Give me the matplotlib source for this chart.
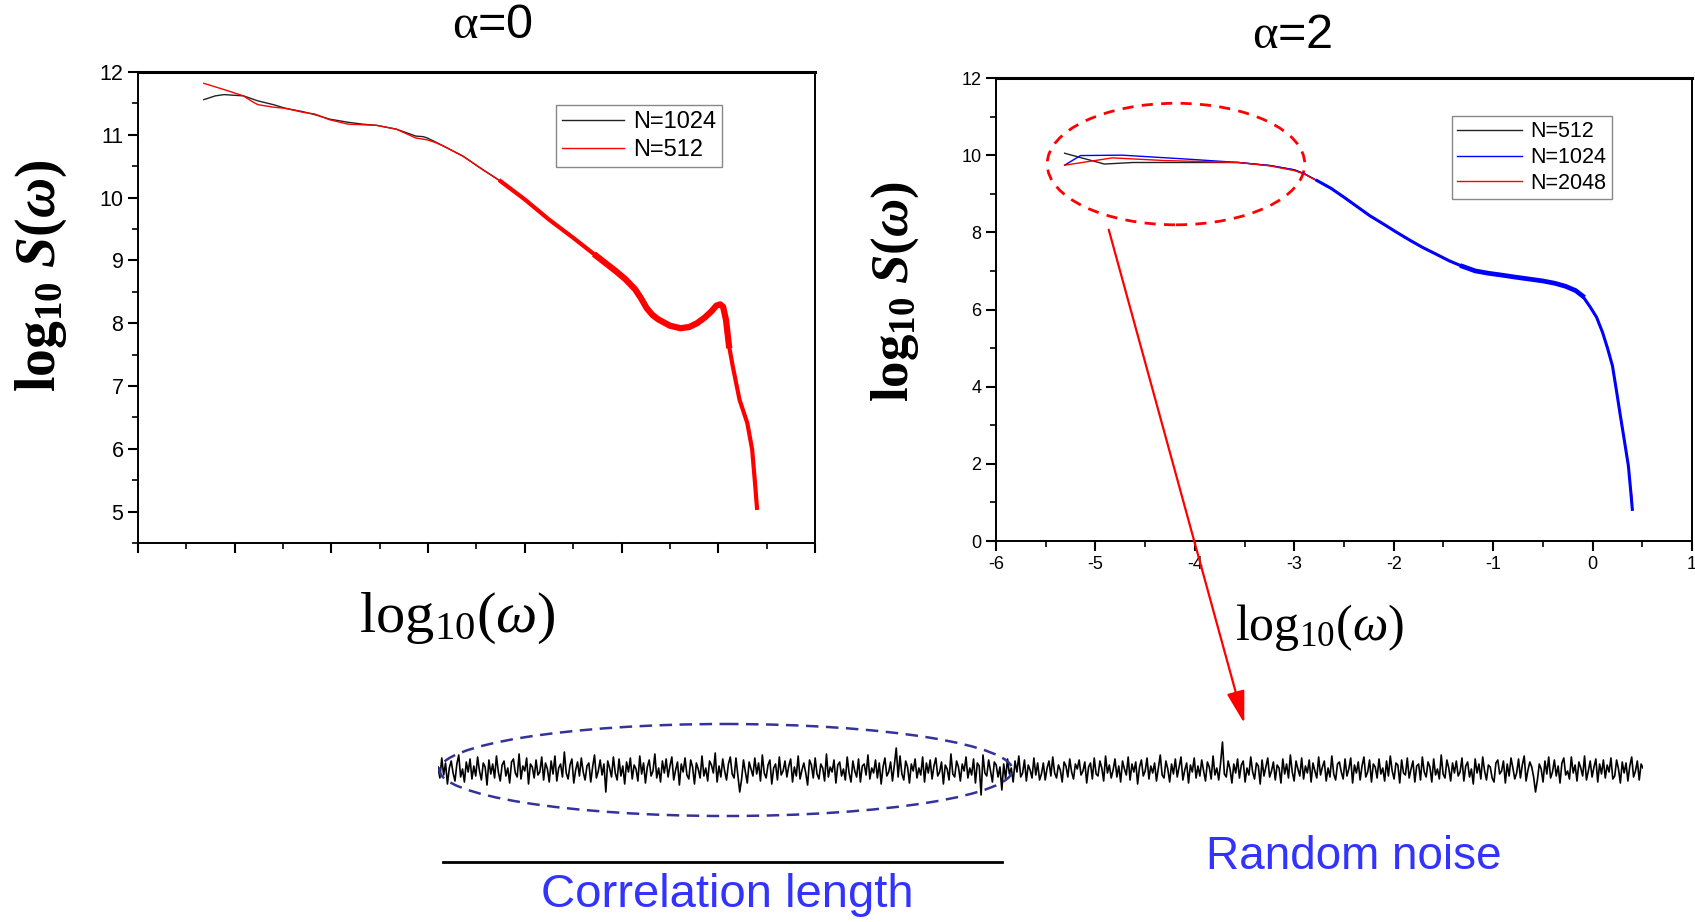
import matplotlib
matplotlib.use("Agg")
import matplotlib.pyplot as plt
from matplotlib.patches import Ellipse

plt.rcParams["font.family"] = ["Liberation Sans", "DejaVu Sans"]
plt.rcParams["axes.unicode_minus"] = False
plt.rcParams["mathtext.fontset"] = "custom"
plt.rcParams["mathtext.rm"] = "Liberation Serif"
plt.rcParams["mathtext.it"] = "Liberation Serif:italic"
plt.rcParams["mathtext.bf"] = "Liberation Serif:bold"
plt.rcParams["mathtext.bfit"] = "Liberation Serif:italic:bold"

# ---- alpha = 0 panel ----
a0_x_1024 = [-5.32, -5.20, -5.11, -4.91, -4.76, -4.60, -4.47, -4.30, -4.17, -4.02, -3.83, -3.68,
             -3.53, -3.33, -3.20, -3.13, -3.05, -3.01, -2.93,
             -2.84, -2.64, -2.44, -2.25, -2.00, -1.75, -1.50, -1.26, -1.06, -0.96, -0.86, -0.80,
             -0.74, -0.68, -0.62, -0.50, -0.39, -0.30, -0.22, -0.14, -0.07, -0.02, 0.02, 0.05,
             0.08, 0.11, 0.15, 0.22, 0.30, 0.35, 0.38, 0.40]
a0_y_1024 = [11.56, 11.62, 11.64, 11.62, 11.54, 11.48, 11.42, 11.37, 11.32, 11.25, 11.20, 11.17,
             11.15, 11.09, 11.02, 10.98, 10.97, 10.95, 10.89,
             10.82, 10.66, 10.45, 10.26, 9.97, 9.65, 9.36, 9.07, 8.83, 8.70, 8.54, 8.40,
             8.24, 8.13, 8.06, 7.96, 7.92, 7.94, 8.00, 8.09, 8.19, 8.28, 8.30, 8.26,
             8.05, 7.65, 7.31, 6.78, 6.41, 5.99, 5.45, 5.10]
a0_x_512 = [-5.32, -5.11, -4.91, -4.82, -4.76, -4.60, -4.47, -4.30, -4.17, -4.02, -3.83, -3.68,
            -3.53, -3.33, -3.20, -3.13, -3.05, -3.01, -2.93,
            -2.84, -2.64, -2.44, -2.25, -2.00, -1.75, -1.50, -1.26, -1.06, -0.96, -0.86, -0.80,
            -0.74, -0.68, -0.62, -0.50, -0.39, -0.30, -0.22, -0.14, -0.07, -0.02, 0.02, 0.05,
            0.08, 0.11, 0.15, 0.22, 0.30, 0.35, 0.38, 0.40]
a0_y_512 = [11.82, 11.72, 11.62, 11.53, 11.48, 11.44, 11.42, 11.36, 11.33, 11.24, 11.17, 11.16,
            11.15, 11.09, 11.00, 10.95, 10.93, 10.92, 10.88,
            10.82, 10.66, 10.45, 10.26, 9.97, 9.65, 9.36, 9.07, 8.83, 8.70, 8.54, 8.40,
            8.24, 8.13, 8.06, 7.96, 7.92, 7.94, 8.00, 8.09, 8.19, 8.28, 8.30, 8.26,
            8.05, 7.65, 7.31, 6.78, 6.41, 5.99, 5.45, 5.06]

# ---- alpha = 2 panel ----
a2_x_512 = [-5.31, -4.91, -4.62, -3.83, -3.56,
            -3.24, -3.00, -2.90, -2.77, -2.63, -2.50, -2.37, -2.24, -2.10, -1.97, -1.84, -1.71,
            -1.57, -1.44, -1.31, -1.18, -1.05, -0.91, -0.78, -0.64, -0.50, -0.38, -0.27, -0.17,
            -0.10, -0.02, 0.04, 0.10, 0.15, 0.20, 0.24, 0.28, 0.32, 0.36, 0.38, 0.40]
a2_y_512 = [10.05, 9.77, 9.81, 9.81, 9.81,
            9.73, 9.62, 9.52, 9.34, 9.14, 8.91, 8.67, 8.43, 8.21, 8.00, 7.80, 7.61,
            7.43, 7.26, 7.12, 7.00, 6.94, 6.89, 6.84, 6.79, 6.74, 6.68, 6.60, 6.49,
            6.35, 6.05, 5.80, 5.41, 5.00, 4.54, 3.90, 3.24, 2.60, 1.95, 1.40, 0.82]
a2_x_1024 = [-5.31, -5.15, -4.73, -4.09, -3.56,
             -3.24, -3.00, -2.90, -2.77, -2.63, -2.50, -2.37, -2.24, -2.10, -1.97, -1.84, -1.71,
             -1.57, -1.44, -1.31, -1.18, -1.05, -0.91, -0.78, -0.64, -0.50, -0.38, -0.27, -0.17,
             -0.10, -0.02, 0.04, 0.10, 0.15, 0.20, 0.24, 0.28, 0.32, 0.36, 0.38, 0.40]
a2_y_1024 = [9.74, 9.99, 10.00, 9.90, 9.81,
             9.73, 9.62, 9.52, 9.34, 9.14, 8.91, 8.67, 8.43, 8.21, 8.00, 7.80, 7.61,
             7.43, 7.26, 7.12, 7.00, 6.94, 6.89, 6.84, 6.79, 6.74, 6.68, 6.60, 6.49,
             6.35, 6.05, 5.80, 5.41, 5.00, 4.54, 3.90, 3.24, 2.60, 1.95, 1.40, 0.82]
a2_x_2048 = [-5.31, -4.83, -4.30, -3.56,
             -3.24, -3.00, -2.90, -2.77, -2.63, -2.50, -2.37, -2.24, -2.10, -1.97, -1.84, -1.71,
             -1.57, -1.44, -1.31, -1.18, -1.05, -0.91, -0.78, -0.64, -0.50, -0.38, -0.27, -0.17,
             -0.10, -0.02, 0.04, 0.10, 0.15, 0.20, 0.24, 0.28, 0.32, 0.36, 0.38, 0.40]
a2_y_2048 = [9.74, 9.93, 9.86, 9.81,
             9.72, 9.60, 9.51, 9.33, 9.13, 8.90, 8.66, 8.42, 8.20, 7.99, 7.79, 7.60,
             7.42, 7.25, 7.11, 6.98, 6.93, 6.87, 6.82, 6.77, 6.72, 6.66, 6.58, 6.47,
             6.33, 6.04, 5.79, 5.40, 5.00, 4.54, 3.90, 3.24, 2.60, 1.95, 1.40, 1.10]

# ---- signal strip (height in pixels) ----
signal = [
    3, -8, 12, -5, 7, -14, 2, 9, -3, -11, 6, 15, -7, 1, -12, 8, -2, 11, -9, 4,
    -6, 13, -1, -10, 7, 3, -15, 10, -4, 6, -8, 14, -2, -11, 5, 9, -6, 2, -13, 8,
    11, -3, -7, 16, -9, 4, -1, 12, -14, 6, 3, -8, 10, -5, -2, 13, -10, 7, 1, -12,
    9, -4, 14, -11, 2, 6, -7, 18, -3, -9, 5, 11, -13, 0, 8, -6, 12, -2, -10, 4,
    7, -12, 3, 15, -8, -1, 10, -5, 6, -22, 9, 2, -7, 13, -3, -10, 11, -6, 4, -14,
    8, -2, 12, -9, 5, 1, -11, 14, -4, 7, -13, 3, 10, -6, -1, 16, -8, 2, -12, 9,
    -3, 11, -7, 4, 13, -10, 0, 8, -15, 6, -2, 12, -5, -9, 10, 3, -14, 7, 1, -8,
    14, -6, 2, -11, 9, 5, -3, 17, -12, 4, -7, 11, -1, -10, 6, 13, -4, -8, 12, -5,
    -22, -9, 10, -2, -13, 8, 1, -6, 12, -4, 7, -11, 15, -3, -8, 5, 10, -14, 2, 6,
    -10, 13, -5, -1, 9, -7, 4, 11, -12, 3, -6, 14, -9, 0, 7, -3, -15, 10, 5, -8,
    12, -4, -9, 6, 2, -11, 16, -7, 3, -2, 10, -13, 5, 8, -6, 1, -10, 13, -3, -12,
    9, -1, -7, 11, -12, 4, 6, -5, 15, -9, 2, -3, 10, -8, 7, -14, 3, 12, -6, -2,
    8, -11, 5, 22, -7, 14, -4, -10, 9, 3, -13, 6, -1, 11, -8, 2, -5, 13, -12, 7,
    -3, 10, -9, 4, 12, -6, -2, 8, -14, 5, 1, -10, 16, -4, -7, 9, 3, -11, 6, -1,
    13, -8, 2, -5, 11, -13, 7, 4, -25, 15, -3, -6, 10, -1, -12, 8, 5, -7, 3, -20,
    6, -9, 11, -4, 2, -12, 9, -2, 14, -7, -3, 10, -11, 5, 0, -8, 12, -5, 7, -10,
    -4, 7, -10, 2, 9, -6, 13, -3, -8, 5, 0, -12, 8, 4, -7, 11, -2, -9, 6, 1,
    10, -5, -1, 8, -13, 3, 7, -9, 12, -4, -6, 9, 2, -11, 14, -3, 5, -8, 0, 11,
    -7, 4, -12, 9, 1, -5, 13, -10, 6, -2, 8, -14, 3, 10, -6, -1, 12, -9, 4, -3,
    7, -11, 2, 15, -5, -8, 9, 1, -12, 6, -4, 11, -7, 3, 13, -10, 0, 7, -13, 5,
    -2, 12, -8, 4, -6, 10, -1, -11, 8, 3, -9, 14, -5, 2, -10, 7, 28, -4, -7, 9,
    1, -13, 6, -3, 11, -8, 5, 9, -12, 2, -5, 13, -2, -9, 7, 4, -14, 10, -6, 3,
    12, -7, -1, 8, -10, 5, 2, -13, 11, -4, 6, -8, 15, -2, -11, 9, 1, -6, 12, -9,
    4, -3, 10, -12, 7, -1, -8, 13, -5, 3, 9, -11, 2, -7, 14, -4, -10, 6, 8, -2,
    -9, 11, -6, 1, 12, -13, 5, -3, 8, -10, 4, 13, -7, -2, 10, -12, 6, 3, -8, 11,
    -4, 2, -11, 9, -6, 14, -1, -9, 7, 5, -13, 10, -3, -5, 12, -8, 1, 9, -12, 4,
    6, -10, 13, -2, -7, 8, 3, -12, 11, -5, 1, -9, 15, -4, -8, 10, 2, -11, 7, -3,
    9, -6, -2, 12, -11, 4, 8, -7, 1, -14, 11, -3, 6, -9, 13, -1, -10, 5, 3, -8,
    -12, 7, 10, -4, -1, 9, -13, 6, -6, 12, 2, -9, -3, 11, -8, 5, 14, -11, 0, 8,
    3, -7, -22, -10, 6, 1, -12, 9, -4, 13, -8, -2, 10, -6, 4, -13, 7, 12, -5, -1,
    -9, 13, -3, 5, -11, 8, 2, -6, 14, -10, -1, 9, -7, 3, 11, -12, 6, -4, 10, -8,
    5, -2, 12, -9, -6, 10, 1, -13, 8, -3, 7, -11, 4, 13, -7, -1, 9, -10, 6, 2,
]

W, H = 1695, 922
fig = plt.figure(figsize=(W / 100, H / 100), dpi=100)


def origin_style(ax, ymin, ymax, ymaj, ymin_step, lab_size):
    ax.set_xlim(-6, 1)
    ax.set_ylim(ymin, ymax)
    ax.set_xticks(range(-6, 2))
    ax.set_xticks([v / 2 for v in range(-12, 3)], minor=True)
    ticks = []
    v = ymin if ymin == int(ymin) else int(ymin) + 1
    while v <= ymax:
        ticks.append(v)
        v += ymaj
    ax.set_yticks(ticks)
    mt = []
    v = ymin
    while v <= ymax + 1e-9:
        mt.append(v)
        v += ymin_step
    ax.set_yticks(mt, minor=True)
    ax.tick_params(which="major", direction="out", length=7, width=1.5, labelsize=lab_size)
    ax.tick_params(which="minor", direction="out", length=4, width=1.2)
    for s in ax.spines.values():
        s.set_linewidth(1.4)
    ax.spines["top"].set_linewidth(2.2)


# left panel
ax1 = fig.add_axes([138 / W, 1 - 543 / H, 677 / W, 471 / H])
origin_style(ax1, 4.5, 12, 1, 0.5, 15.5)
ax1.set_xticklabels([])
ax1.plot(a0_x_1024, a0_y_1024, color="#222222", lw=1.0, label="N=1024")
ax1.plot(a0_x_512, a0_y_512, color="red", lw=1.0, label="N=512")
ax1.plot(a0_x_512[22:], a0_y_512[22:], color="red", lw=3.0)
ax1.plot(a0_x_512[26:45], a0_y_512[26:45], color="red", lw=4.5)
ax1.legend(loc="upper left", bbox_to_anchor=(0.618, 0.93), borderaxespad=0, fontsize=17,
           fancybox=False, edgecolor="#888888", handlelength=2.6, borderpad=0.25,
           labelspacing=0.25, handletextpad=0.4, framealpha=1)

# right panel
ax2 = fig.add_axes([996 / W, 1 - 541 / H, 696 / W, 463 / H])
origin_style(ax2, 0, 12, 2, 1, 13)
ax2.plot(a2_x_512, a2_y_512, color="#222222", lw=1.0, label="N=512")
ax2.plot(a2_x_1024, a2_y_1024, color="blue", lw=1.0, label="N=1024")
ax2.plot(a2_x_2048, a2_y_2048, color="red", lw=1.0, label="N=2048")
ax2.plot(a2_x_1024[8:], a2_y_1024[8:], color="blue", lw=2.2)
ax2.plot(a2_x_1024[19:30], a2_y_1024[19:30], color="blue", lw=3.4)
ax2.add_patch(Ellipse((-4.19, 9.77), 2.59, 3.15, fill=False, ec="red", lw=2, ls=(0, (4, 3)),
                      clip_on=False))
ax2.legend(loc="upper left", bbox_to_anchor=(0.655, 0.918), borderaxespad=0, fontsize=15.5,
           fancybox=False, edgecolor="#888888", handlelength=3.0, borderpad=0.25,
           labelspacing=0.22, handletextpad=0.4, framealpha=1)

# signal strip
ax3 = fig.add_axes([438 / W, 1 - 800 / H, 1205 / W, 60 / H])
ax3.plot(range(len(signal)), signal, color="black", lw=1.2)
ax3.set_xlim(0, len(signal) - 1)
ax3.set_ylim(-30, 30)
ax3.axis("off")

# overlay for annotations in pixel coordinates
ov = fig.add_axes([0, 0, 1, 1])
ov.set_xlim(0, W)
ov.set_ylim(H, 0)
ov.axis("off")

ov.text(492, 26, r"$\mathrm{\alpha}$=0", fontsize=35, ha="center", va="center")
ov.text(1292, 36, r"$\mathrm{\alpha}$=2", fontsize=35, ha="center", va="center")

ylab = r"$\mathbf{log}_{\mathbf{10}}\ \mathbfit{S}\mathbf{(}\mathbfit{\omega}\mathbf{)}$"
ov.text(41, 276, ylab, fontsize=40, rotation=90, ha="center", va="center")
ov.text(895, 292, ylab, fontsize=38, rotation=90, ha="center", va="center")

xlab = r"$\mathrm{log}_{10}(\omega)$"
ov.text(457, 618, xlab, fontsize=42, ha="center", va="center")
ov.text(1319, 627, xlab, fontsize=36, ha="center", va="center")

ov.annotate("", xy=(1245, 726), xytext=(1108, 227),
            arrowprops=dict(arrowstyle="-|>,head_width=0.25,head_length=0.9", color="red",
                            lw=1.6, mutation_scale=22))

ov.add_patch(Ellipse((726, 770), 573, 92, fill=False, ec="#333399", lw=1.8, ls=(0, (5, 3))))
ov.plot([443, 1002], [862, 862], color="black", lw=2)

ov.text(727, 895, "Correlation length", fontsize=34, color="#3333ff", ha="center",
        va="center")
ov.text(1354, 857, "Random noise", fontsize=33, color="#3333ff", ha="center", va="center")

fig.savefig("out.png", dpi=100)
